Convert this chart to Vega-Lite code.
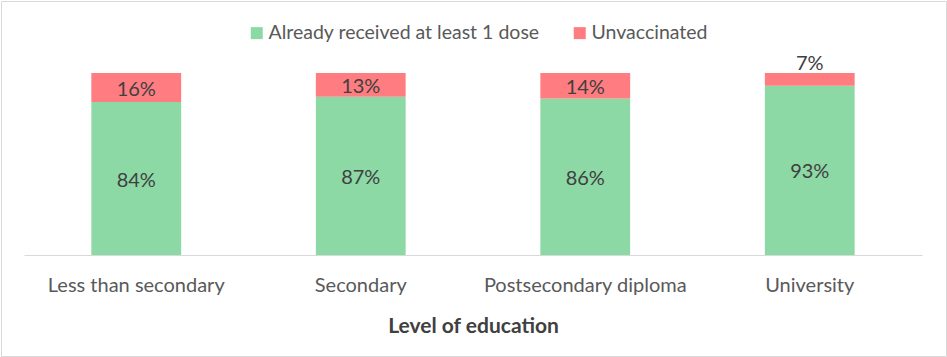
{
  "$schema": "https://vega.github.io/schema/vega-lite/v6.json",
  "width": 945,
  "height": 355,
  "padding": 1,
  "autosize": {"type": "none"},
  "background": "white",
  "config": {"view": {"stroke": "#D9D9D9", "strokeWidth": 1}, "font": "Lato"},
  "data": {
    "values": [
      {"level": "Less than secondary", "status": "Already received at least 1 dose", "value": 0.84},
      {"level": "Less than secondary", "status": "Unvaccinated", "value": 0.16},
      {"level": "Secondary", "status": "Already received at least 1 dose", "value": 0.87},
      {"level": "Secondary", "status": "Unvaccinated", "value": 0.13},
      {"level": "Postsecondary diploma", "status": "Already received at least 1 dose", "value": 0.86},
      {"level": "Postsecondary diploma", "status": "Unvaccinated", "value": 0.14},
      {"level": "University", "status": "Already received at least 1 dose", "value": 0.93},
      {"level": "University", "status": "Unvaccinated", "value": 0.07}
    ]
  },
  "encoding": {
    "x": {
      "field": "level",
      "type": "nominal",
      "sort": ["Less than secondary", "Secondary", "Postsecondary diploma", "University"],
      "scale": {"range": [23, 921], "paddingInner": 0.6, "paddingOuter": 0.3},
      "axis": {
        "title": "Level of education",
        "offset": -101,
        "domainColor": "#D9D9D9",
        "ticks": false,
        "labelAngle": 0,
        "labelFontSize": 20,
        "labelLimit": 400,
        "labelColor": "#595959",
        "labelPadding": 20,
        "titleFontSize": 21,
        "titleFontWeight": "bold",
        "titleColor": "#404040",
        "titlePadding": 20,
        "grid": false
      }
    }
  },
  "layer": [
    {
      "mark": {"type": "bar"},
      "encoding": {
        "y": {
          "field": "value",
          "type": "quantitative",
          "stack": "zero",
          "scale": {"domain": [0, 1], "range": [254, 72], "nice": false},
          "axis": null
        },
        "order": {"field": "status", "sort": "ascending"},
        "color": {
          "field": "status",
          "type": "nominal",
          "scale": {
            "domain": ["Already received at least 1 dose", "Unvaccinated"],
            "range": ["#8CD9A5", "#FF7C80"]
          },
          "legend": {
            "title": null,
            "orient": "none",
            "direction": "horizontal",
            "legendX": 246,
            "legendY": 22,
            "symbolType": "square",
            "symbolSize": 144,
            "symbolStrokeWidth": 0,
            "labelFontSize": 19.5,
            "labelLimit": 500,
            "labelColor": "#595959",
            "labelOffset": 2,
            "columnPadding": 30
          }
        }
      }
    },
    {
      "transform": [
        {"stack": "value", "groupby": ["level"], "sort": [{"field": "status", "order": "ascending"}], "as": ["v0", "v1"]},
        {"filter": "datum.value >= 0.1"},
        {"fold": ["v0", "v1"], "as": ["edge", "pos"]}
      ],
      "mark": {"type": "text", "fontSize": 20, "color": "#404040", "baseline": "middle", "dy": 2},
      "encoding": {
        "y": {"field": "pos", "type": "quantitative", "aggregate": "mean"},
        "detail": {"field": "status", "type": "nominal"},
        "text": {"field": "value", "type": "quantitative", "aggregate": "max", "format": ".0%"}
      }
    },
    {
      "transform": [
        {"stack": "value", "groupby": ["level"], "sort": [{"field": "status", "order": "ascending"}], "as": ["v0", "v1"]},
        {"filter": "datum.value < 0.1"}
      ],
      "mark": {"type": "text", "fontSize": 20, "color": "#404040", "baseline": "bottom", "dy": 1},
      "encoding": {
        "y": {"field": "v1", "type": "quantitative"},
        "text": {"field": "value", "type": "quantitative", "format": ".0%"}
      }
    }
  ]
}
